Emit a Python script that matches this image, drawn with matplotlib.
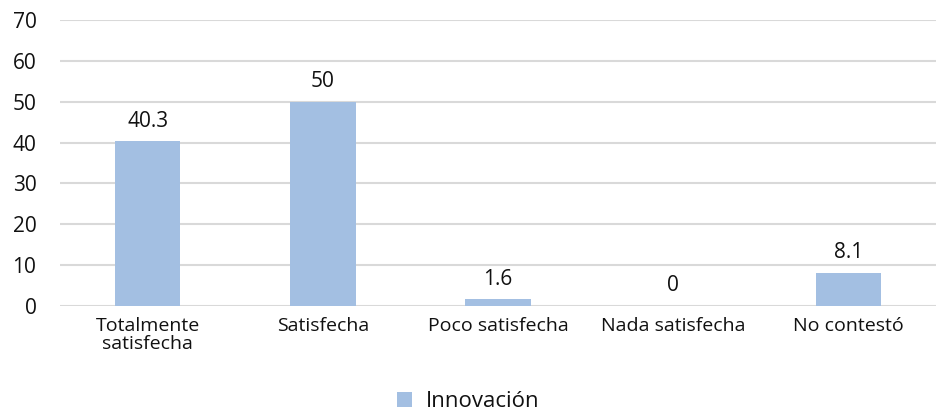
import matplotlib.pyplot as plt
import numpy as np

# data
categories = ["Totalmente\nsatisfecha", "Satisfecha", "Poco satisfecha", "Nada satisfecha", "No contestó"]
innovacion = [40.3, 50, 1.6, 0, 8.1]
value_labels = ["40.3", "50", "1.6", "0", "8.1"]
series_name = "Innovación"

bar_color = "#A3BFE2"
grid_color = "#D9D9D9"
text_color = "#111111"

plt.rcParams['font.family'] = ['Open Sans', 'DejaVu Sans']

fig = plt.figure(figsize=(9.36, 4.13), dpi=100)
ax = fig.add_axes([60 / 936, 107 / 413, 876 / 936, 286 / 413])

x = np.arange(len(categories))
bars = ax.bar(x, innovacion, width=0.375, color=bar_color, zorder=3)

# data labels above bars
for b, lab in zip(bars, value_labels):
    ax.annotate(lab, (b.get_x() + b.get_width() / 2, b.get_height()),
                xytext=(0, 7), textcoords="offset points",
                ha="center", va="bottom", fontsize=15, color=text_color)

ax.set_xlim(-0.5, len(categories) - 0.5)
ax.set_ylim(0, 70)
ax.set_yticks(range(0, 71, 10))
ax.set_xticks(x)
ax.set_xticklabels(categories, fontsize=14, color=text_color, linespacing=1.0)
ax.tick_params(axis="y", labelsize=15, labelcolor=text_color, length=0, pad=17)
ax.tick_params(axis="x", length=0, pad=8)

ax.grid(axis="y", color=grid_color, linewidth=1.5, zorder=0)
for s in ax.spines.values():
    s.set_visible(False)

leg = fig.legend([bars[0]], [series_name], loc="lower center", bbox_to_anchor=(0.5, -0.036),
                 frameon=False, fontsize=16, handlelength=0.7, handleheight=0.7,
                 handletextpad=0.6, borderpad=0.2)
for t in leg.get_texts():
    t.set_color(text_color)

fig.savefig("out.png", dpi=100)
